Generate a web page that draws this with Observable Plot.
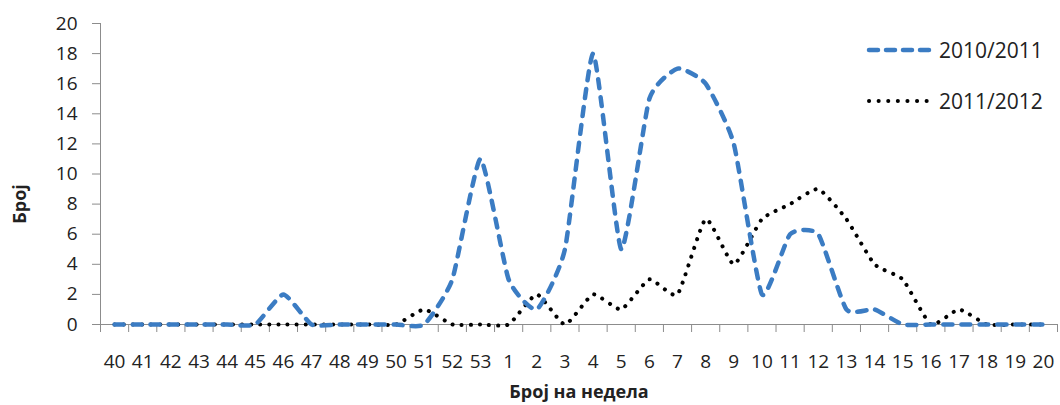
<!DOCTYPE html>
<html>
<head>
<meta charset="utf-8">
<script src="https://cdn.jsdelivr.net/npm/d3@7"></script>
<script src="https://cdn.jsdelivr.net/npm/@observablehq/plot@0.6"></script>
<style>
  html, body { margin: 0; padding: 0; background: #fff; }
  #wrap { position: relative; width: 1060px; height: 405px; font-family: "Open Sans", sans-serif; }
  #legend { position: absolute; left: 866px; top: 34px; font-size: 21px; color: #222; }
  #legend .row { display: flex; align-items: center; height: 32px; margin-bottom: 19px; }
  #legend svg { margin-right: 5px; }
</style>
</head>
<body>
<div id="wrap">
  <div id="chart"></div>
  <div id="legend"></div>
</div>
<script>
const weeks = ["40","41","42","43","44","45","46","47","48","49","50","51","52","53",
  "1","2","3","4","5","6","7","8","9","10","11","12","13","14","15","16","17","18","19","20"];
const season2010 = [0,0,0,0,0,0,2,0,0,0,0,0,3,11, 3,1,5,18,5,15,17,16,12,2,6,6,1,1,0,0,0,0,0,0];
const season2011 = [0,0,0,0,0,0,0,0,0,0,0,1,0,0, 0,2,0,2,1,3,2,7,4,7,8,9,7,4,3,0,1,0,0,0];
const seriesNames = ["2010/2011", "2011/2012"];
const yTicks = [0,2,4,6,8,10,12,14,16,18,20];
const xTitle = "Број на недела";
const yTitle = "Број";

const blue = "#3b7cc3";
const idx = weeks.map((_, i) => i);
const rows1 = idx.map(i => ({i, v: season2010[i]}));
const rows2 = idx.map(i => ({i, v: season2011[i]}));
const bounds = d3.range(weeks.length + 1).map(k => k - 0.5);

const chart = Plot.plot({
  width: 1060,
  height: 405,
  marginLeft: 100,
  marginRight: 3,
  marginTop: 23,
  marginBottom: 81,
  style: {fontFamily: "Open Sans, sans-serif", background: "#fff"},
  x: {type: "linear", domain: [-0.5, weeks.length - 0.5]},
  y: {domain: [0, 20]},
  marks: [
    Plot.ruleY([0], {stroke: "#8c8c8c", strokeWidth: 1}),
    Plot.ruleX([-0.5], {stroke: "#8c8c8c", strokeWidth: 1}),
    Plot.axisY({ticks: yTicks, tickSize: 8, tickPadding: 15, stroke: "#8c8c8c", fill: "#222", fontSize: 19, label: null}),
    Plot.axisX({ticks: bounds, tickSize: 8, tickFormat: () => "", stroke: "#8c8c8c", label: null}),
    Plot.axisX({ticks: idx, tickSize: 0, tickPadding: 30, tickFormat: i => weeks[i], fill: "#222", fontSize: 19, label: null}),
    Plot.line(rows2, {x: "i", y: "v", curve: "cardinal", tension: 0.5, stroke: "#000", strokeWidth: 4, strokeDasharray: "0.1 9", strokeLinecap: "round"}),
    Plot.line(rows1, {x: "i", y: "v", curve: "cardinal", tension: 0.5, stroke: blue, strokeWidth: 4.5, strokeDasharray: "9 9", strokeLinecap: "round"}),
    Plot.text([xTitle], {frameAnchor: "bottom", dy: 73, fontSize: 18, fontWeight: "bold", fill: "#222"}),
    Plot.text([yTitle], {frameAnchor: "left", dx: -80, dy: 30, rotate: -90, textAnchor: "middle", fontSize: 18, fontWeight: "bold", fill: "#222"})
  ]
});
document.getElementById("chart").appendChild(chart);

const legend = document.getElementById("legend");
const styles = [
  {stroke: blue, width: 4.5, dash: "9 8"},
  {stroke: "#000", width: 4, dash: "0.1 9.5"}
];
seriesNames.forEach((name, k) => {
  const row = document.createElement("div");
  row.className = "row";
  const s = styles[k];
  row.innerHTML = `<svg width="68" height="10"><line x1="3" y1="5" x2="64" y2="5" stroke="${s.stroke}" stroke-width="${s.width}" stroke-dasharray="${s.dash}" stroke-linecap="round"/></svg><span>${name}</span>`;
  legend.appendChild(row);
});
</script>
</body>
</html>
